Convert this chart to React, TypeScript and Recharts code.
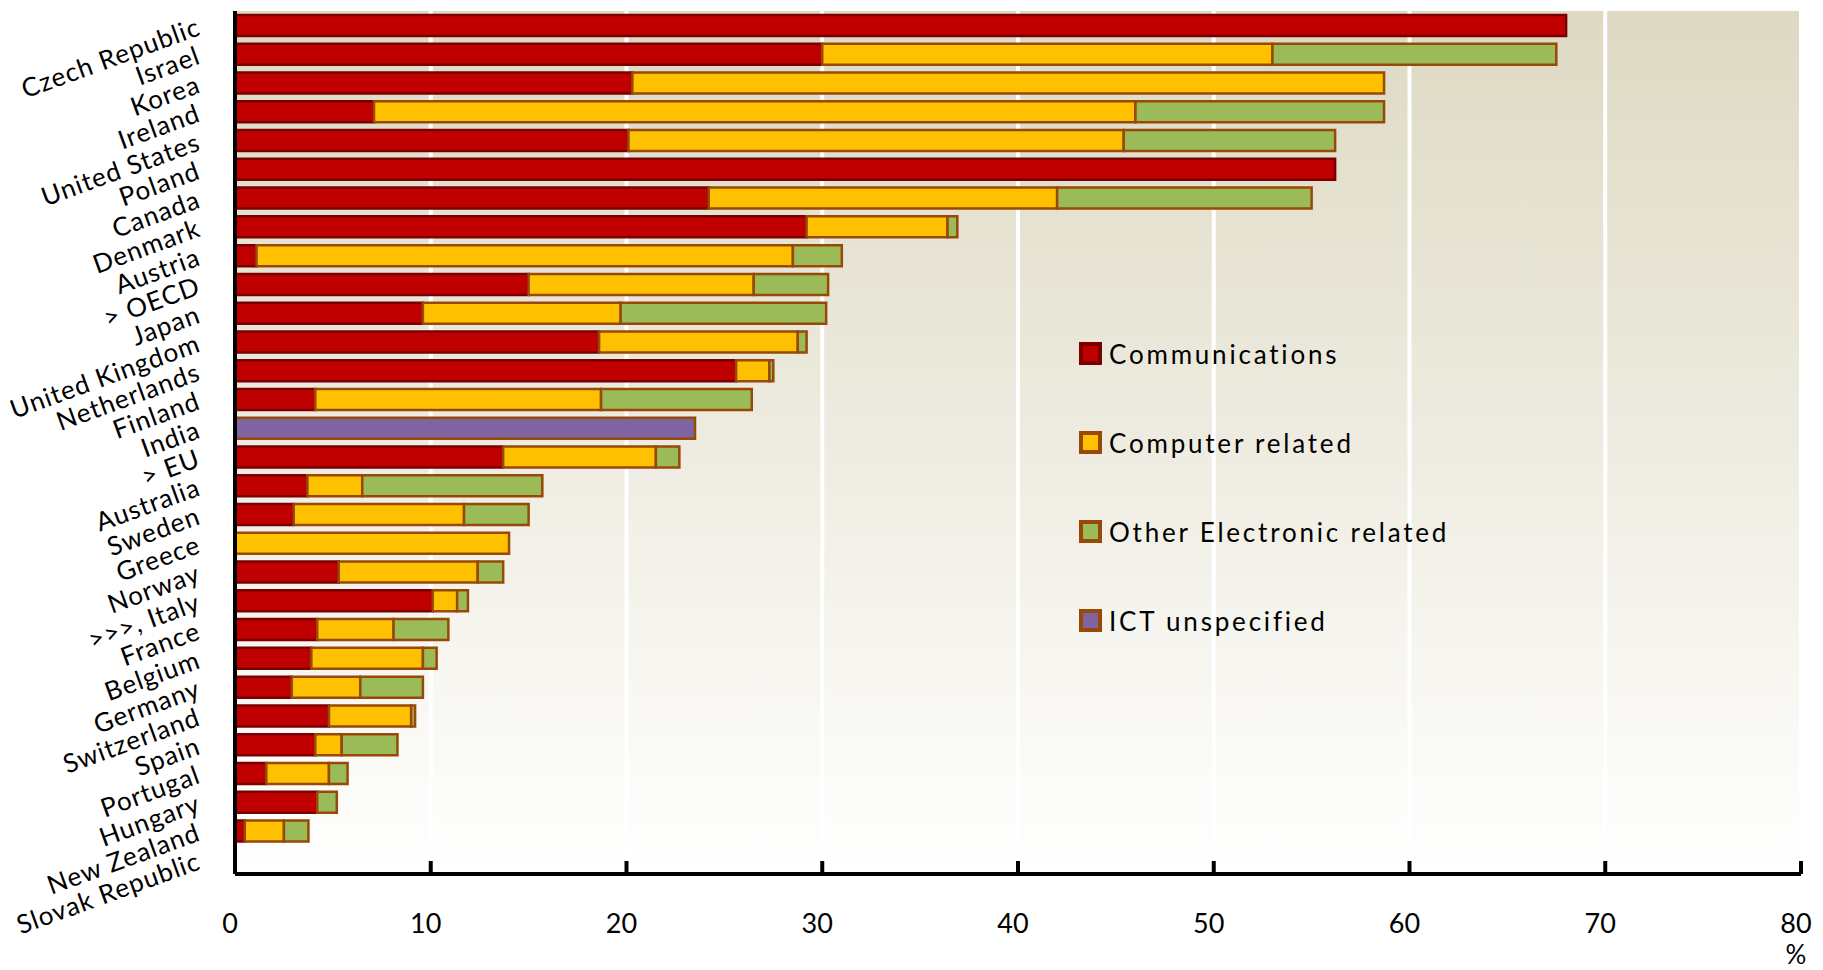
import { BarChart, Bar, XAxis, YAxis, CartesianGrid, Legend } from "recharts";

const countries = [
  "Czech Republic", "Israel", "Korea", "Ireland", "United States", "Poland",
  "Canada", "Denmark", "Austria", "> OECD", "Japan", "United Kingdom",
  "Netherlands", "Finland", "India", "> EU", "Australia", "Sweden", "Greece",
  "Norway", ">>>, Italy", "France", "Belgium", "Germany", "Switzerland",
  "Spain", "Portugal", "Hungary", "New Zealand", "Slovak Republic",
];

// segment lengths (percentage points), stacked left to right
const communications = [
  68.0, 30.0, 20.3, 7.1, 20.1, 56.2, 24.2, 29.2, 1.1, 15.0, 9.6, 18.6, 25.6, 4.1, 0,
  13.7, 3.7, 3.0, 0, 5.3, 10.1, 4.2, 3.9, 2.9, 4.8, 4.1, 1.6, 4.2, 0.5, 0,
];
const computerRelated = [
  0, 23.0, 38.4, 38.9, 25.3, 0, 17.8, 7.2, 27.4, 11.5, 10.1, 10.15, 1.7, 14.6, 0,
  7.8, 2.8, 8.7, 14.0, 7.1, 1.25, 3.9, 5.7, 3.5, 4.2, 1.35, 3.2, 0, 2.0, 0,
];
const otherElectronic = [
  0, 14.5, 0, 12.7, 10.8, 0, 13.0, 0.5, 2.5, 3.8, 10.5, 0.45, 0.2, 7.7, 0,
  1.2, 9.2, 3.3, 0, 1.3, 0.55, 2.8, 0.7, 3.2, 0.2, 2.85, 0.95, 1.0, 1.25, 0,
];
const ictUnspecified = [
  0, 0, 0, 0, 0, 0, 0, 0, 0, 0, 0, 0, 0, 0, 23.5,
  0, 0, 0, 0, 0, 0, 0, 0, 0, 0, 0, 0, 0, 0, 0,
];

const xTicks = [0, 10, 20, 30, 40, 50, 60, 70, 80];

const series = [
  { key: "comm", name: "Communications", fill: "#C00000", stroke: "#7A0000" },
  { key: "comp", name: "Computer related", fill: "#FFC000", stroke: "#984807" },
  { key: "other", name: "Other Electronic related", fill: "#9BBB59", stroke: "#984807" },
  { key: "ict", name: "ICT unspecified", fill: "#8064A2", stroke: "#984807" },
];

const data = countries.map((country, i) => ({
  country,
  comm: communications[i],
  comp: computerRelated[i],
  other: otherElectronic[i],
  ict: ictUnspecified[i],
}));

const CountryTick = ({ x, y, payload }: any) => {
  const ax = x - 33;
  const ay = y + 9;
  return (
    <text
      x={ax}
      y={ay}
      transform={`rotate(-20, ${ax}, ${ay})`}
      textAnchor="end"
      fontSize={26}
      letterSpacing={1}
      fill="#000"
    >
      {payload.value}
    </text>
  );
};

const ValueTick = ({ x, y, payload }: any) => (
  <g>
    <line x1={x} x2={x} y1={y} y2={y - 13} stroke="#000" strokeWidth={4} />
    <text x={x - 5} y={y + 59} textAnchor="middle" fontSize={27} fill="#000">
      {payload.value}
    </text>
    {payload.value === 80 && (
      <text x={x - 5} y={y + 90} textAnchor="middle" fontSize={26} fill="#000">
        %
      </text>
    )}
  </g>
);

const LegendBox = () => (
  <div>
    {series.map((s) => (
      <div key={s.key} style={{ display: "flex", alignItems: "center", height: 89 }}>
        <div
          style={{
            width: 23,
            height: 23,
            boxSizing: "border-box",
            border: `4px solid ${s.stroke}`,
            backgroundColor: s.fill,
            marginRight: 7,
          }}
        />
        <span style={{ fontSize: 26, letterSpacing: 2.8, color: "#000" }}>{s.name}</span>
      </div>
    ))}
  </div>
);

export default function App() {
  return (
    <div style={{ width: 1823, height: 970, background: "#fff", fontFamily: "Lato, sans-serif" }}>
      <style>{"body{margin:0}"}</style>
      <BarChart
        width={1823}
        height={970}
        data={data}
        layout="vertical"
        margin={{ top: 11, right: 22, bottom: 0, left: 0 }}
        barSize={21}
      >
        <defs>
          <linearGradient id="plotBg" x1="0" y1="0" x2="0" y2="1">
            <stop offset="0%" stopColor="#DDD9C3" />
            <stop offset="100%" stopColor="#FFFFFF" />
          </linearGradient>
        </defs>
        <CartesianGrid horizontal={false} stroke="#FFFFFF" strokeWidth={4} fill="url(#plotBg)" />
        <XAxis
          type="number"
          domain={[0, 80]}
          ticks={xTicks}
          height={96}
          tickSize={0}
          tickMargin={0}
          tickLine={false}
          axisLine={{ stroke: "#000", strokeWidth: 4 }}
          tick={<ValueTick />}
        />
        <YAxis
          type="category"
          dataKey="country"
          width={235}
          interval={0}
          tickSize={0}
          tickMargin={0}
          tickLine={false}
          axisLine={{ stroke: "#000", strokeWidth: 4 }}
          tick={<CountryTick />}
        />
        {series.map((s) => (
          <Bar
            key={s.key}
            dataKey={s.key}
            name={s.name}
            stackId="a"
            fill={s.fill}
            stroke={s.stroke}
            strokeWidth={2.5}
            isAnimationActive={false}
          />
        ))}
        <Legend
          layout="vertical"
          align="center"
          verticalAlign="middle"
          content={<LegendBox />}
          wrapperStyle={{ position: "absolute", left: 1079, top: 309, width: 600, bottom: "auto" }}
        />
      </BarChart>
    </div>
  );
}
